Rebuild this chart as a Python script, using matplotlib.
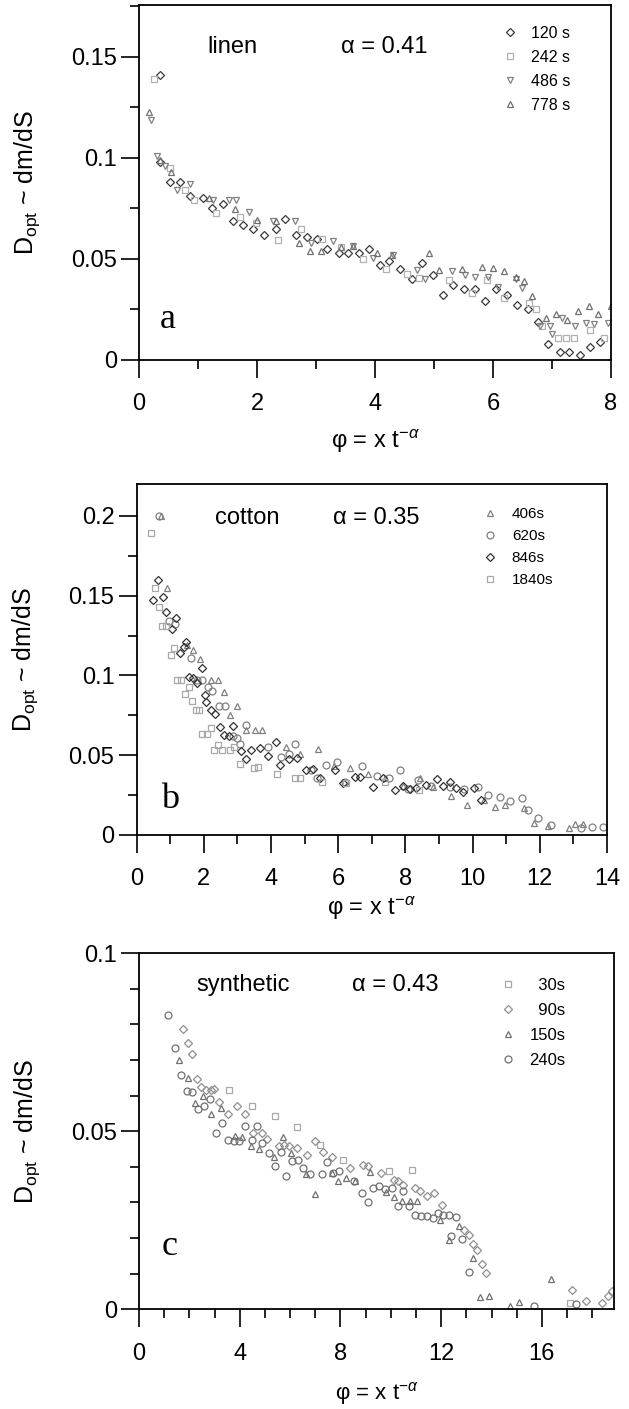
import numpy as np
import matplotlib
matplotlib.use('Agg')
import matplotlib.pyplot as plt
from matplotlib.ticker import MultipleLocator, FuncFormatter

plt.rcParams['font.family'] = ['Liberation Sans', 'DejaVu Sans']
plt.rcParams['mathtext.fontset'] = 'custom'
plt.rcParams['mathtext.rm'] = 'Liberation Sans'
plt.rcParams['mathtext.it'] = 'Liberation Sans:italic'

# ---- panel a : linen ----
a_120_x = [0.35,0.35,0.52,0.70,0.87,1.08,1.23,1.43,1.59,1.77,1.94,2.12,2.32,2.48,2.66,2.85,3.02,3.19,3.39,3.55,3.73,3.90,4.08,4.24,4.43,4.62,4.79,4.98,5.16,5.33,5.51,5.69,5.87,6.05,6.23,6.41,6.59,6.76,6.94,7.13,7.29,7.47,7.64,7.82]
a_120_y = [0.141,0.098,0.088,0.088,0.081,0.080,0.075,0.077,0.069,0.067,0.065,0.062,0.065,0.070,0.062,0.061,0.060,0.055,0.053,0.053,0.053,0.055,0.047,0.049,0.045,0.040,0.048,0.042,0.032,0.037,0.035,0.035,0.029,0.035,0.032,0.027,0.025,0.019,0.008,0.004,0.004,0.0025,0.0066,0.009]
a_242_x = [0.25,0.52,0.78,0.93,1.31,1.72,1.99,2.36,2.74,3.10,3.42,3.80,4.19,4.55,4.75,5.25,5.64,5.89,6.19,6.61,6.73,6.83,7.10,7.24,7.37,7.64,7.88]
a_242_y = [0.139,0.095,0.084,0.079,0.0725,0.071,0.068,0.0596,0.0646,0.060,0.056,0.050,0.045,0.0427,0.0406,0.0394,0.033,0.0394,0.0306,0.028,0.025,0.0166,0.0108,0.0108,0.0108,0.0146,0.0108]
a_486_x = [0.21,0.31,0.44,0.65,0.87,1.26,1.52,1.65,1.87,2.27,2.64,2.91,3.29,3.63,3.97,4.31,4.72,4.85,5.30,5.53,5.70,5.91,6.08,6.39,6.49,6.80,6.96,7.00,7.17,7.39,7.58,7.71,7.95]
a_486_y = [0.119,0.101,0.096,0.084,0.087,0.079,0.079,0.079,0.073,0.0687,0.069,0.058,0.059,0.0566,0.0505,0.052,0.0447,0.040,0.044,0.042,0.041,0.041,0.036,0.040,0.0356,0.017,0.017,0.013,0.021,0.017,0.0185,0.018,0.0185]
a_778_x = [0.17,0.36,0.55,1.18,1.62,2.00,2.33,2.71,2.89,3.08,3.42,3.63,4.04,4.28,4.91,5.09,5.47,5.81,6.00,6.18,6.39,6.52,6.66,6.89,7.07,7.25,7.44,7.63,7.78,8.00]
a_778_y = [0.1225,0.099,0.093,0.080,0.0745,0.0695,0.0687,0.058,0.054,0.054,0.056,0.0566,0.053,0.052,0.053,0.0447,0.045,0.046,0.0455,0.044,0.041,0.039,0.0315,0.0207,0.023,0.020,0.024,0.0265,0.023,0.0265]

# ---- panel b : cotton ----
b_406_x = [0.71,0.91,1.49,1.68,1.88,2.22,2.42,2.60,2.78,2.98,3.26,3.52,3.72,4.45,4.85,5.41,5.87,6.35,6.90,7.38,7.93,8.42,8.82,9.37,9.84,10.33,10.67,10.95,11.53,11.83,12.25,12.88,13.04,13.30]
b_406_y = [0.200,0.155,0.119,0.116,0.110,0.097,0.097,0.0896,0.075,0.081,0.066,0.066,0.0656,0.055,0.0506,0.0537,0.043,0.0418,0.0383,0.0355,0.0307,0.0355,0.030,0.0245,0.0188,0.022,0.0173,0.0188,0.0167,0.0073,0.0056,0.0042,0.0067,0.0069]
b_620_x = [0.66,0.96,1.13,1.61,1.80,1.95,2.13,2.25,2.45,2.62,2.88,3.00,3.08,3.24,3.91,4.29,4.53,4.71,5.18,5.38,5.65,5.97,6.21,6.72,7.16,7.50,7.84,8.08,8.37,8.76,9.34,9.73,10.15,10.45,10.81,11.11,11.47,11.65,11.95,12.34,13.22,13.55,13.88]
b_620_y = [0.200,0.134,0.132,0.111,0.097,0.097,0.093,0.090,0.081,0.081,0.062,0.061,0.057,0.069,0.055,0.049,0.051,0.057,0.041,0.036,0.0439,0.046,0.033,0.043,0.037,0.036,0.041,0.029,0.0345,0.031,0.030,0.029,0.030,0.025,0.024,0.021,0.023,0.0157,0.0104,0.0063,0.0042,0.0048,0.0052]
b_846_x = [0.50,0.64,0.78,0.88,1.04,1.18,1.28,1.41,1.48,1.56,1.69,1.80,1.93,2.03,2.05,2.20,2.32,2.47,2.60,2.75,2.87,3.12,3.24,3.39,3.66,3.91,4.16,4.26,4.53,4.78,5.03,5.26,5.46,5.90,6.15,6.50,6.65,7.04,7.34,7.69,7.93,8.13,8.32,8.62,8.94,9.11,9.34,9.50,9.70,10.04,10.24]
b_846_y = [0.147,0.160,0.149,0.140,0.129,0.136,0.114,0.118,0.121,0.099,0.0985,0.0954,0.1046,0.0875,0.0835,0.0785,0.076,0.0677,0.0625,0.062,0.068,0.0527,0.0475,0.053,0.0546,0.0496,0.0583,0.044,0.0475,0.0483,0.0406,0.0412,0.0355,0.0408,0.0324,0.0362,0.0366,0.0299,0.0355,0.0282,0.0307,0.0286,0.0292,0.0313,0.0349,0.0307,0.0334,0.0292,0.0271,0.0292,0.0219]
b_1840_x = [0.44,0.55,0.66,0.74,0.86,1.01,1.11,1.21,1.31,1.44,1.56,1.66,1.76,1.86,1.95,2.08,2.20,2.30,2.42,2.53,2.78,2.90,3.08,3.49,3.61,4.19,4.71,4.85,5.51,6.24,7.38,8.40]
b_1840_y = [0.189,0.155,0.143,0.131,0.131,0.113,0.117,0.097,0.097,0.0885,0.0927,0.0838,0.0785,0.0785,0.0635,0.0635,0.067,0.0535,0.0567,0.0535,0.0535,0.055,0.0448,0.042,0.0427,0.0385,0.0354,0.0358,0.0334,0.0328,0.033,0.028]

# ---- panel c : synthetic ----
c_30_x = [3.58,4.48,5.40,6.29,7.19,8.12,9.91,10.83,17.11]
c_30_y = [0.0617,0.057,0.0544,0.0511,0.0462,0.0418,0.0387,0.0392,0.0017]
c_90_x = [1.76,1.96,2.12,2.29,2.46,2.66,2.85,2.99,3.19,3.52,3.88,4.21,4.54,4.87,5.07,5.54,5.74,5.97,6.26,6.66,6.99,7.32,7.68,8.38,8.91,9.11,9.60,10.11,10.30,10.50,10.97,11.17,11.43,11.72,12.03,12.89,13.09,13.25,13.44,13.62,13.79,17.19,17.75,18.38,18.62,18.78]
c_90_y = [0.0786,0.0747,0.0716,0.0647,0.0625,0.0617,0.0617,0.0619,0.0582,0.0547,0.0570,0.0547,0.0495,0.0495,0.0477,0.0458,0.0462,0.0458,0.0453,0.0432,0.0472,0.0441,0.0428,0.0397,0.0406,0.0402,0.0383,0.0364,0.0359,0.035,0.0341,0.0331,0.0317,0.0326,0.0294,0.0223,0.0209,0.0183,0.0167,0.0127,0.0101,0.0054,0.0022,0.0017,0.0036,0.005]
c_150_x = [1.59,1.93,2.23,2.53,2.85,3.26,3.81,4.11,4.45,4.77,5.36,5.71,6.03,6.64,6.97,7.66,7.92,8.21,8.58,9.18,9.81,10.12,10.44,10.77,11.03,11.96,12.33,12.69,13.25,13.55,13.88,14.73,15.08,16.37]
c_150_y = [0.070,0.0649,0.058,0.060,0.0547,0.0566,0.0486,0.0484,0.0458,0.045,0.0427,0.0484,0.0439,0.0381,0.0324,0.0383,0.0359,0.0369,0.0359,0.0385,0.0328,0.0315,0.0303,0.0303,0.0303,0.0251,0.0195,0.0233,0.0145,0.0033,0.0036,0.001,0.0021,0.0084]
c_240_x = [1.17,1.43,1.67,1.89,2.12,2.33,2.60,2.82,3.06,3.28,3.52,3.77,3.97,4.19,4.48,4.70,4.87,5.17,5.40,5.63,5.84,6.07,6.30,6.53,6.79,7.26,7.48,7.72,7.95,8.54,8.85,9.11,9.31,9.55,9.77,10.04,10.28,10.50,10.73,10.97,11.21,11.43,11.66,11.87,12.09,12.33,12.58,12.40,12.82,13.09,15.68,17.35]
c_240_y = [0.0826,0.0735,0.0657,0.0613,0.061,0.0561,0.0572,0.0591,0.0495,0.0523,0.0475,0.0472,0.0472,0.0514,0.0475,0.0516,0.0467,0.0439,0.0402,0.0441,0.0375,0.0416,0.0418,0.0397,0.0381,0.0381,0.0413,0.0383,0.0387,0.0359,0.0326,0.0301,0.0341,0.0347,0.0338,0.0341,0.0291,0.0331,0.0291,0.0265,0.0261,0.0263,0.0256,0.0270,0.0265,0.0265,0.0259,0.0206,0.0197,0.0106,0.001,0.0015]

a_labels = ['120 s', '242 s', '486 s', '778 s']
b_labels = ['406s', '620s', '846s', '1840s']
c_labels = ['  30s', '  90s', '150s', '240s']


def fmt(v, pos):
    return '%g' % round(v, 3)


def setup(ax, xmax, ymax, xmaj, xmin, ymaj, ymin, ylab_x, xlab_y, xlab_size=17):
    ax.set_xlim(0, xmax)
    ax.set_ylim(0, ymax)
    ax.xaxis.set_major_locator(MultipleLocator(xmaj))
    ax.xaxis.set_minor_locator(MultipleLocator(xmin))
    ax.yaxis.set_major_locator(MultipleLocator(ymaj))
    ax.yaxis.set_minor_locator(MultipleLocator(ymin))
    ax.yaxis.set_major_formatter(FuncFormatter(fmt))
    ax.tick_params(which='both', direction='out', width=1.2, top=False, right=False)
    ax.tick_params(which='major', length=13, labelsize=17)
    ax.tick_params(which='minor', length=6.5)
    ax.tick_params(axis='x', which='major', pad=11)
    ax.tick_params(axis='y', which='major', pad=3)
    for s in ax.spines.values():
        s.set_linewidth(1.3)
    ax.set_ylabel(r'D$_{\rm opt}$ ~ dm/dS', fontsize=18)
    ax.set_xlabel(r'φ = x t$^{-α}$', fontsize=xlab_size, va='top')
    ax.yaxis.set_label_coords(ylab_x, 0.5)
    ax.xaxis.set_label_coords(0.5, xlab_y)


def series(ax, x, y, marker, col, label, ms=5):
    return ax.plot(x, y, linestyle='none', marker=marker, ms=ms, mfc='none',
                   mec=col, mew=0.9, label=label)[0]


fig = plt.figure(figsize=(6.29, 14.09), dpi=100)

# panel a
ax1 = fig.add_axes([0.221, 0.7445, 0.7504, 0.2520])
h1 = [series(ax1, a_120_x, a_120_y, 'D', '#3a3a3a', a_labels[0], 4.2),
      series(ax1, a_242_x, a_242_y, 's', '#b0b0b0', a_labels[1], 4.5),
      series(ax1, a_486_x, a_486_y, 'v', '#808080', a_labels[2]),
      series(ax1, a_778_x, a_778_y, '^', '#707070', a_labels[3])]
setup(ax1, 8, 0.1757, 2, 1, 0.05, 0.025, -0.205, -0.19)
ax1.legend(handles=h1, loc='upper left', bbox_to_anchor=(0.755, 0.963), frameon=False,
           borderpad=0, handlelength=0.8, handletextpad=0.9, labelspacing=0.56,
           fontsize=11.5, numpoints=1)
ax1.text(0.199, 0.882, 'linen', transform=ax1.transAxes, ha='center', va='center', fontsize=17)
ax1.text(0.519, 0.882, 'α = 0.41', transform=ax1.transAxes, ha='center', va='center', fontsize=17)
ax1.text(0.045, 0.09, 'a', transform=ax1.transAxes, ha='left', va='baseline', fontsize=26,
         family='Liberation Serif')

# panel b
ax2 = fig.add_axes([0.2173, 0.4074, 0.7477, 0.2491])
h2 = [series(ax2, b_406_x, b_406_y, '^', '#808080', b_labels[0], 4.5),
      series(ax2, b_620_x, b_620_y, 'o', '#808080', b_labels[1], 5),
      series(ax2, b_846_x, b_846_y, 'D', '#333333', b_labels[2], 4.2),
      series(ax2, b_1840_x, b_1840_y, 's', '#a8a8a8', b_labels[3], 4.5)]
setup(ax2, 14, 0.22, 2, 1, 0.05, 0.025, -0.205, -0.17)
ax2.legend(handles=h2, loc='upper left', bbox_to_anchor=(0.723, 0.956), frameon=False,
           borderpad=0, handlelength=0.8, handletextpad=1.0, labelspacing=0.53,
           fontsize=11, numpoints=1)
ax2.text(0.235, 0.903, 'cotton', transform=ax2.transAxes, ha='center', va='center', fontsize=17)
ax2.text(0.509, 0.903, 'α = 0.35', transform=ax2.transAxes, ha='center', va='center', fontsize=17)
ax2.text(0.051, 0.077, 'b', transform=ax2.transAxes, ha='left', va='baseline', fontsize=26,
         family='Liberation Serif')

# panel c
ax3 = fig.add_axes([0.221, 0.0708, 0.755, 0.2527])
h3 = [series(ax3, c_30_x, c_30_y, 's', '#a8a8a8', c_labels[0], 4.5),
      series(ax3, c_90_x, c_90_y, 'D', '#909090', c_labels[1], 4.2),
      series(ax3, c_150_x, c_150_y, '^', '#707070', c_labels[2], 4.5),
      series(ax3, c_240_x, c_240_y, 'o', '#707070', c_labels[3], 5)]
setup(ax3, 18.86, 0.1, 4, 1, 0.05, 0.01, -0.205, -0.2, xlab_size=16)
ax3.legend(handles=h3, loc='upper left', bbox_to_anchor=(0.745, 0.953), frameon=False,
           borderpad=0, handlelength=0.8, handletextpad=0.9, labelspacing=0.6,
           fontsize=12, numpoints=1)
ax3.text(0.219, 0.911, 'synthetic', transform=ax3.transAxes, ha='center', va='center', fontsize=17)
ax3.text(0.539, 0.911, 'α = 0.43', transform=ax3.transAxes, ha='center', va='center', fontsize=17)
ax3.text(0.048, 0.153, 'c', transform=ax3.transAxes, ha='left', va='baseline', fontsize=26,
         family='Liberation Serif')

fig.savefig('out.png', dpi=100)
